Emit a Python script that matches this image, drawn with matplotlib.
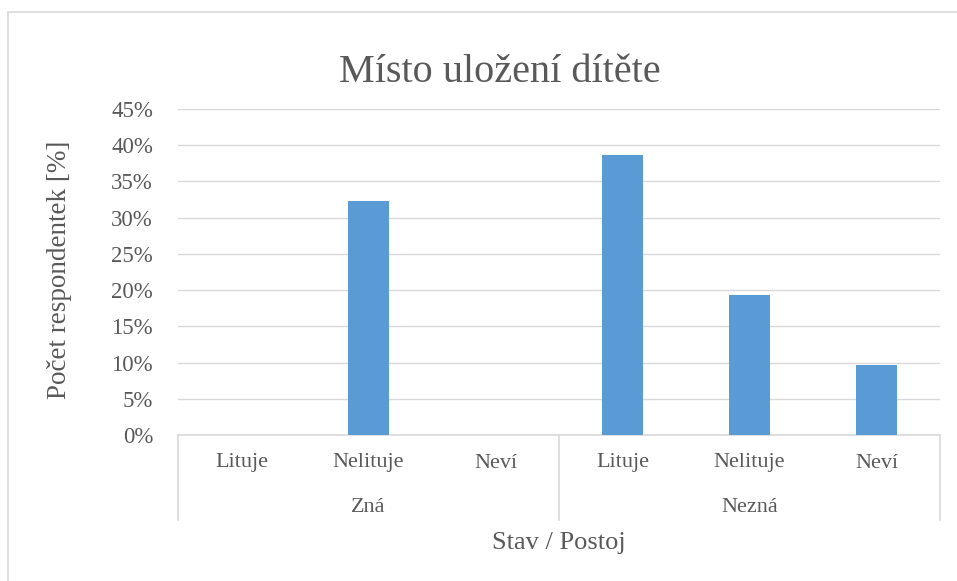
import matplotlib
matplotlib.use("agg")
import matplotlib.pyplot as plt
from matplotlib.patches import Rectangle

# data: share of respondents per group / attitude
groups = ["Zná", "Nezná"]
attitudes = ["Lituje", "Nelituje", "Neví"]
zna_vals = [0.0, 32.26, 0.0]
nezna_vals = [38.71, 19.35, 9.68]
yticks = [0, 5, 10, 15, 20, 25, 30, 35, 40, 45]

plt.rcParams['font.family'] = ['Liberation Serif', 'DejaVu Serif']
txt = '#595959'
grid = '#D9D9D9'
bar_c = '#5B9BD5'

W, H = 957, 581
fig = plt.figure(figsize=(W / 100, H / 100), dpi=100)
# outer chart frame (right/bottom edges fall outside the image)
fig.patches.append(Rectangle((8 / W, -0.1), 1, 1.1 - 12 / H, transform=fig.transFigure,
                             fill=False, edgecolor=grid, linewidth=1.2))

x0, x1, yb, yt = 178, 940, 435, 109
ax = fig.add_axes([x0 / W, 1 - yb / H, (x1 - x0) / W, (yb - yt) / H])

vals = zna_vals + nezna_vals
xs = list(range(len(vals)))
ax.bar(xs, vals, width=0.315, color=bar_c, zorder=3)
ax.set_xlim(-0.5, len(vals) - 0.5)
ax.set_ylim(0, 45)
ax.set_yticks(yticks)
ax.set_yticklabels([f"{v}%" for v in yticks])
ax.yaxis.grid(True, color=grid, linewidth=1.0, zorder=0)
ax.tick_params(axis='y', length=0, pad=18, labelsize=16.5, labelcolor=txt)
ax.set_xticks([])
for s in ['top', 'right', 'left']:
    ax.spines[s].set_visible(False)
ax.spines['bottom'].set_color(grid)
ax.spines['bottom'].set_linewidth(1.2)

# category labels
for i, x in enumerate(xs):
    ax.text(x, -28 / 326 * 45, attitudes[i % 3], ha='center', va='center',
            fontsize=16, color=txt, clip_on=False)
for g, name in enumerate(groups):
    ax.text(g * 3 + 1, -72 / 326 * 45, name, ha='center', va='center',
            fontsize=16, color=txt, clip_on=False)
for xb in [-0.5, 2.5, 5.5]:
    ax.plot([xb, xb], [0, -85 / 326 * 45], color=grid, linewidth=1.2, clip_on=False)

fig.text((x0 + x1) / 2 / W, 1 - 543 / H, "Stav / Postoj", ha='center', va='center',
         fontsize=19, color=txt)
fig.text(60 / W, 1 - 270 / H, "Počet respondentek [%]", ha='center', va='center',
         rotation=90, fontsize=19.5, color=txt)
fig.text(500 / W, 1 - 72 / H, "Místo uložení dítěte", ha='center', va='center',
         fontsize=29, color=txt)

fig.savefig("out.png", dpi=100)
